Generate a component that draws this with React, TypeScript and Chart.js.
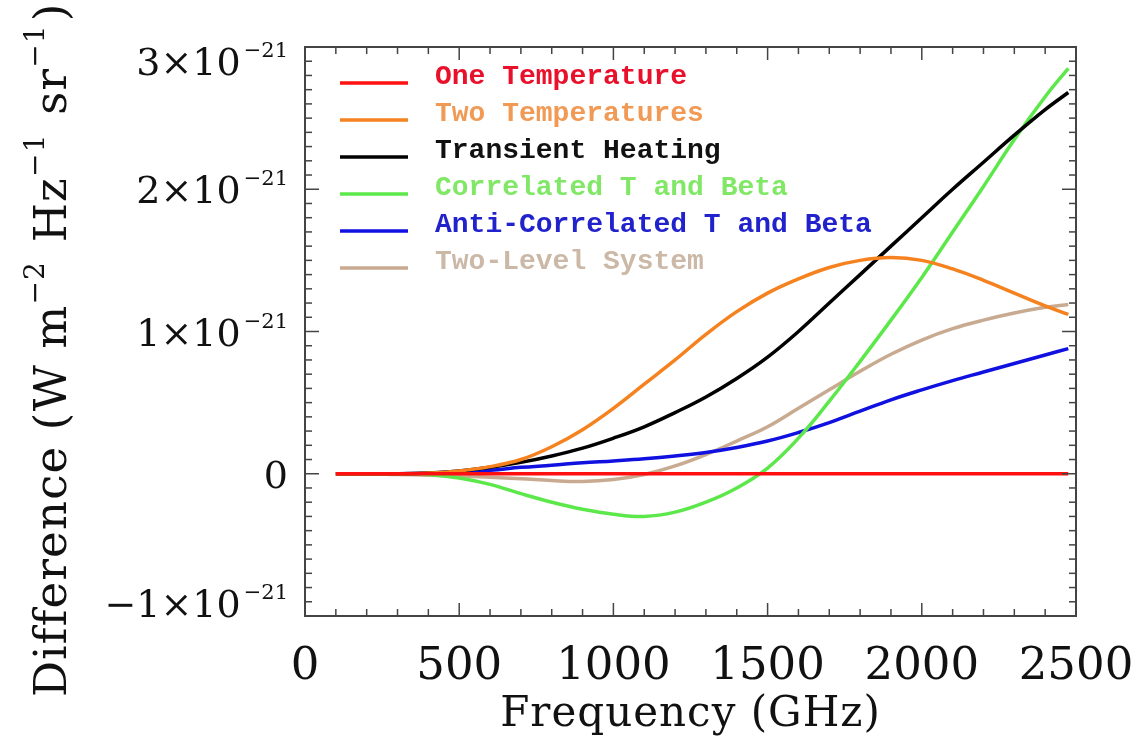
import { useEffect, useRef } from 'react';
import { Chart, registerables } from 'chart.js';

Chart.register(...registerables);

// Frequency grid (GHz)
const FREQ_GHZ = [100, 200, 300, 400, 500, 600, 700, 800, 900, 1000, 1100, 1200, 1300, 1400, 1500, 1600, 1700, 1800, 1900, 2000, 2100, 2200, 2300, 2400, 2475];

// Differences in units of 1e-21 W m^-2 Hz^-1 sr^-1
const ONE_TEMPERATURE = [0, 0, 0, 0, 0, 0, 0, 0, 0, 0, 0, 0, 0, 0, 0, 0, 0, 0, 0, 0, 0, 0, 0, 0, 0];
const TWO_TEMPERATURES = [0, 0, 0, 0.005, 0.02, 0.05, 0.1, 0.19, 0.31, 0.46, 0.63, 0.8, 0.98, 1.14, 1.27, 1.37, 1.45, 1.5, 1.52, 1.5, 1.44, 1.36, 1.27, 1.18, 1.12];
const TRANSIENT_HEATING = [0, 0, 0, 0.005, 0.02, 0.045, 0.08, 0.125, 0.18, 0.25, 0.33, 0.43, 0.54, 0.67, 0.82, 1.0, 1.2, 1.4, 1.6, 1.8, 2.0, 2.19, 2.38, 2.56, 2.68];
const CORRELATED_T_BETA = [0, 0, 0, -0.005, -0.03, -0.075, -0.14, -0.2, -0.25, -0.285, -0.3, -0.27, -0.2, -0.1, 0.04, 0.25, 0.51, 0.79, 1.08, 1.38, 1.7, 2.02, 2.35, 2.65, 2.85];
const ANTI_CORRELATED_T_BETA = [0, 0, 0, 0.005, 0.015, 0.025, 0.045, 0.06, 0.077, 0.09, 0.105, 0.125, 0.15, 0.185, 0.23, 0.29, 0.36, 0.44, 0.52, 0.59, 0.655, 0.715, 0.775, 0.835, 0.88];
const TWO_LEVEL_SYSTEM = [0, 0, -0.005, -0.01, -0.015, -0.025, -0.035, -0.048, -0.054, -0.04, -0.005, 0.055, 0.135, 0.23, 0.33, 0.46, 0.59, 0.72, 0.84, 0.94, 1.02, 1.08, 1.13, 1.17, 1.19];

const SERIES_NAMES = ['One Temperature', 'Two Temperatures', 'Transient Heating', 'Correlated T and Beta', 'Anti-Correlated T and Beta', 'Two-Level System'];
const SERIES_VALUES = [ONE_TEMPERATURE, TWO_TEMPERATURES, TRANSIENT_HEATING, CORRELATED_T_BETA, ANTI_CORRELATED_T_BETA, TWO_LEVEL_SYSTEM];
const LINE_COLORS = ['#ff1010', '#f5821f', '#000000', '#5ce84a', '#1010e0', '#c8aa90'];
const TEXT_COLORS = ['#e8102a', '#f09a55', '#111111', '#80e866', '#2222cc', '#cbb8a6'];

const X_TICKS = [0, 500, 1000, 1500, 2000, 2500];
const X_TICK_LABELS = ['0', '500', '1000', '1500', '2000', '2500'];
const Y_TICKS = [-1, 0, 1, 2, 3];
const Y_TICK_MAIN = ['\u22121\u00d710', '0', '1\u00d710', '2\u00d710', '3\u00d710'];
const Y_TICK_SUP = ['\u221221', '', '\u221221', '\u221221', '\u221221'];
const X_TITLE = 'Frequency (GHz)';
const Y_TITLE_PARTS: [string, boolean][] = [
  ['Difference (W m', false], ['\u22122', true], [' Hz', false], ['\u22121', true], [' sr', false], ['\u22121', true], [')', false],
];

const X_MIN = 0, X_MAX = 2500, X_MINOR = 100;
const Y_MIN = -1, Y_MAX = 3, Y_MINOR = 0.1;

const SERIF = '"DejaVu Serif", serif';

const idlPlugin = {
  id: 'idlAxes',
  afterDraw(chart: any) {
    const ctx: any = chart.ctx;
    const { left, right, top, bottom } = chart.chartArea;
    const xs = chart.scales.x;
    const ys = chart.scales.y;
    ctx.save();
    // box
    ctx.strokeStyle = '#444';
    ctx.lineWidth = 2;
    ctx.strokeRect(left, top, right - left, bottom - top);
    ctx.lineWidth = 1.5;
    const line = (x1: number, y1: number, x2: number, y2: number) => {
      ctx.beginPath(); ctx.moveTo(x1, y1); ctx.lineTo(x2, y2); ctx.stroke();
    };
    const nx = Math.round((X_MAX - X_MIN) / X_MINOR);
    for (let i = 0; i <= nx; i++) {
      const v = X_MIN + i * X_MINOR;
      const px = xs.getPixelForValue(v);
      const major = i % 5 === 0;
      const len = major ? 13 : 7;
      line(px, bottom, px, bottom - len);
      line(px, top, px, top + len);
    }
    const ny = Math.round((Y_MAX - Y_MIN) / Y_MINOR);
    for (let i = 0; i <= ny; i++) {
      const v = Y_MIN + i * Y_MINOR;
      const py = ys.getPixelForValue(v);
      const major = i % 10 === 0;
      const len = major ? 14 : 7;
      line(left, py, left + len, py);
      line(right, py, right - len, py);
    }
    // x tick labels
    ctx.fillStyle = '#111';
    ctx.font = `45px ${SERIF}`;
    ctx.textAlign = 'center';
    ctx.textBaseline = 'alphabetic';
    X_TICKS.forEach((v, i) => {
      ctx.fillText(X_TICK_LABELS[i], xs.getPixelForValue(v), 679);
    });
    // y tick labels
    const labelRight = left - 17;
    Y_TICKS.forEach((v, i) => {
      let cy = ys.getPixelForValue(v);
      cy = Math.max(top + 14, Math.min(bottom - 13, cy));
      const base = cy + 14;
      ctx.textAlign = 'left';
      ctx.font = `21px ${SERIF}`;
      const supW = ctx.measureText(Y_TICK_SUP[i]).width;
      ctx.font = `38px ${SERIF}`;
      const mainW = ctx.measureText(Y_TICK_MAIN[i]).width;
      const x0 = labelRight - supW - (supW ? 3 : 0) - mainW;
      ctx.fillText(Y_TICK_MAIN[i], x0, base);
      if (supW) {
        ctx.font = `21px ${SERIF}`;
        ctx.fillText(Y_TICK_SUP[i], x0 + mainW + 3, base - 18);
      }
    });
    // x title
    ctx.textAlign = 'center';
    ctx.font = `42px ${SERIF}`;
    ctx.letterSpacing = '1px';
    ctx.fillText(X_TITLE, (left + right) / 2, 726);
    // y title (rotated)
    ctx.save();
    ctx.translate(66, 697);
    ctx.rotate(-Math.PI / 2);
    ctx.textAlign = 'left';
    ctx.letterSpacing = '1.2px';
    let cx = 0;
    Y_TITLE_PARTS.forEach(([t, sup]) => {
      ctx.font = sup ? `28px ${SERIF}` : `45px ${SERIF}`;
      const w = ctx.measureText(t).width;
      ctx.fillText(t, cx, sup ? -22 : 0);
      cx += w + (sup ? 3 : 0);
    });
    ctx.restore();
    ctx.letterSpacing = '0px';
    // legend
    ctx.font = 'bold 28px "Liberation Mono", monospace';
    ctx.textAlign = 'left';
    SERIES_NAMES.forEach((name, i) => {
      const ly = 83 + i * 37;
      ctx.strokeStyle = LINE_COLORS[i];
      ctx.lineWidth = 3.5;
      line(340, ly, 408, ly);
      ctx.fillStyle = TEXT_COLORS[i];
      ctx.fillText(name, 435, ly + 1);
    });
    ctx.restore();
  },
};

export default function App() {
  const canvasRef = useRef<HTMLCanvasElement | null>(null);
  useEffect(() => {
    if (!canvasRef.current) return;
    const datasets = SERIES_NAMES.map((name, i) => ({
      label: name,
      data: FREQ_GHZ.map((f, j) => ({ x: f, y: SERIES_VALUES[i][j] })),
      borderColor: LINE_COLORS[i],
      backgroundColor: LINE_COLORS[i],
      borderWidth: 3.5,
      pointRadius: 0,
      tension: 0.4,
      fill: false,
    }));
    const chart = new Chart(canvasRef.current, {
      type: 'line',
      data: { datasets },
      options: {
        animation: false,
        responsive: false,
        devicePixelRatio: 1,
        layout: { padding: { left: 305, right: 70, top: 47, bottom: 122 } },
        plugins: { legend: { display: false }, tooltip: { enabled: false } },
        scales: {
          x: { type: 'linear', min: X_MIN, max: X_MAX, display: false },
          y: { type: 'linear', min: Y_MIN, max: Y_MAX, display: false },
        },
      },
      plugins: [idlPlugin],
    });
    return () => chart.destroy();
  }, []);
  return (
    <div style={{ position: 'fixed', left: 0, top: 0, width: 1146, height: 738, background: '#fff' }}>
      <canvas ref={canvasRef} width={1146} height={738} style={{ width: 1146, height: 738 }} />
    </div>
  );
}
